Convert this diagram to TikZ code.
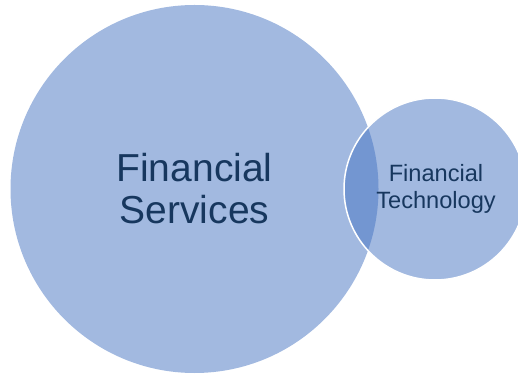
\documentclass[tikz,border=0pt]{standalone}
\usepackage{fontspec}
\setmainfont{Liberation Sans}
\usepackage{xcolor}
\definecolor{circlefill}{HTML}{A2B9E0}
\definecolor{overlapfill}{HTML}{7396D1}
\definecolor{labeltext}{HTML}{17375E}
\tikzset{
    big-circle/.style = {circle, fill=circlefill, minimum size=368pt, inner sep=0pt, outer sep=0pt},
    small-circle/.style = {circle, fill=circlefill, minimum size=182pt, inner sep=0pt, outer sep=0pt},
    big-label/.style = {text=labeltext, align=center, font=\fontsize{39}{42}\selectfont},
    small-label/.style = {text=labeltext, align=center, font=\fontsize{23.6}{27}\selectfont},
}

\begin{document}
\begin{tikzpicture}[x=1pt, y=1pt]
\useasboundingbox (0,0) rectangle (518,374);
\node [big-circle] (fs) at (194.5,185) {};
\node [small-circle] (ft) at (435,185) {};
% darker part where the two circles meet
\begin{scope}
    \clip (fs.center) circle (184pt);
    \fill [overlapfill] (ft.center) circle (91pt);
\end{scope}
\draw [white, line width=1.5pt] (ft.center) circle (91pt);
\node [big-label] (fs-label) at (fs.center) {Financial\\Services};
\node [small-label] (ft-label) at (436,185) {Financial\\Technology};
\end{tikzpicture}
\end{document}
